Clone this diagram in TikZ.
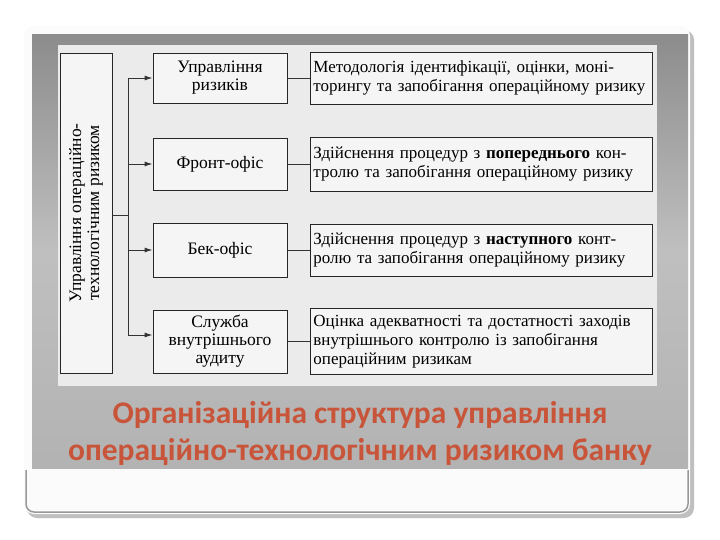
\documentclass[tikz,border=0pt]{standalone}
\usepackage{fontspec}
\setmainfont{Liberation Serif}
\newfontfamily\titlefont{Carlito}
\usetikzlibrary{arrows.meta}
\definecolor{titlec}{HTML}{C8553A}
\begin{document}
\begin{tikzpicture}[x=1pt,y=-1pt,
  mid/.style={draw=black!85,line width=0.9pt,fill=white!92!gray,minimum width=134pt,align=center,font=\fontsize{17.5}{18}\selectfont,inner sep=2pt},
  right/.style={draw=black!85,line width=0.9pt,fill=white!92!gray,text width=336pt,align=left,font=\fontsize{17}{19}\selectfont,inner sep=3pt,anchor=west},
  con/.style={line width=0.9pt,draw=black!80},
  arr/.style={con,-{Latex[length=8pt,width=5pt]}}]
\useasboundingbox (0,0) rectangle (720,540);
\fill[white] (0,0) rectangle (720,540);
\fill[black!25,rounded corners=10pt] (27,30) rectangle (694,518);
\fill[white!97!gray,rounded corners=10pt] (24,26) rectangle (690,514);
\draw[black!40,line width=1.5pt,rounded corners=8pt] (26,470) -- (26,512) -- (688,512) -- (688,470);
\shade[top color=black!45,bottom color=black!30,middle color=black!25] (32,35) rectangle (688,468);
\fill[black!8] (58,45) rectangle (657,386);
% tall box
\node[draw=black!85,line width=0.9pt,fill=white!92!gray,minimum width=52pt,minimum height=320pt,inner sep=0pt] (L) at (86,213) {};
\node[rotate=90,align=center,font=\fontsize{17.5}{18}\selectfont] at (L.center) {Управління операційно-\\технологічним ризиком};
% middle boxes
\node[mid,minimum height=50pt] (m1) at (220,78) {Управління\\ризиків};
\node[mid,minimum height=52pt] (m2) at (220,164) {Фронт-офіс};
\node[mid,minimum height=54pt] (m3) at (220,250) {Бек-офіс};
\node[mid,minimum height=63pt] (m4) at (220,341.5) {Служба\\внутрішнього\\аудиту};
% right boxes
\node[right,minimum height=52pt] (r1) at (310,78) {Методологія ідентифікації, оцінки, моні-\\торингу та запобігання операційному ризику};
\node[right,minimum height=54pt] (r2) at (310,164) {Здійснення процедур з \textbf{попереднього} кон-\\тролю та запобігання операційному ризику};
\node[right,minimum height=52pt] (r3) at (310,250) {Здійснення процедур з \textbf{наступного} конт-\\ролю та запобігання операційному ризику};
\node[right,minimum height=66pt] (r4) at (310,341.5) {Оцінка адекватності та достатності заходів\\внутрішнього контролю із запобігання\\операційним ризикам};
% connectors
\coordinate (b) at (128,215);
\coordinate (top) at (128,78);
\coordinate (bot) at (128,335);
\draw[con] (L.east |- b) -- (b);
\draw[con] (top) -- (bot);
\draw[arr] (top) -- (m1.west);
\draw[arr] (top |- m2.west) -- (m2.west);
\draw[arr] (top |- m3.west) -- (m3.west);
\draw[arr] (bot) -- (m4.west |- bot);
\foreach \i in {1,2,3,4}{\draw[con] (m\i.east) -- (r\i.west |- m\i.east);}
% title
\node[font=\titlefont\bfseries\fontsize{31.5}{37}\selectfont,text=titlec,align=center] (t) at (360,433) {Організаційна структура управління\\операційно-технологічним ризиком банку};
\end{tikzpicture}
\end{document}
